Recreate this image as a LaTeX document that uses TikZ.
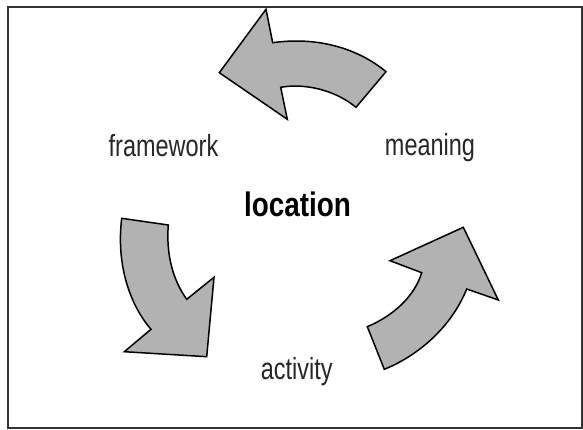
\documentclass[tikz,border=0pt]{standalone}
\usepackage{fontspec}
\newfontfamily\narrowfont[FakeStretch=0.77]{Liberation Sans}
\newfontfamily\narrowbold[FakeStretch=0.82]{Liberation Sans Bold}
\begin{document}
\begin{tikzpicture}[x=1pt,y=-1pt,
  frame/.style={draw=black!80,line width=2pt},
  bigarrow/.style={draw=black,fill=black!30,line width=1.5pt,line join=miter},
  label/.style={anchor=base,inner sep=0pt,text=black!85,font=\narrowfont\fontsize{30.5}{32}\selectfont},
  centre/.style={anchor=base,inner sep=0pt,text=black,font=\narrowbold\fontsize{34}{36}\selectfont}]
\useasboundingbox (0,0) rectangle (583,430);
\draw[frame] (8,7) rectangle (582,428);
% top arrow (meaning -> framework)
\draw[bigarrow] (219.3,72.7) -- (266,9.3) -- (272.7,42.7)
  .. controls (320,36) and (360,50) .. (386,71.7) -- (356,107.3)
  .. controls (335,90) and (305,83) .. (280.7,87.3) -- (287.3,119.3) -- cycle;
% left arrow (framework -> activity)
\draw[bigarrow] (121.7,218.3) -- (168.3,225)
  .. controls (166,255) and (173,280) .. (186.7,299.3) -- (214,277.3)
  -- (206.7,356.7) -- (124.3,351.7) -- (151,329.3)
  .. controls (130,305) and (116,265) .. (121.7,218.3) -- cycle;
% right arrow (activity -> meaning)
\draw[bigarrow] (367.3,326.7) -- (384.3,369.3)
  .. controls (415,357) and (450,330) .. (466.7,289) -- (498.3,300)
  -- (463.3,227.3) -- (390,260.7) -- (421.7,272.7)
  .. controls (415,295) and (395,315) .. (367.3,326.7) -- cycle;
\node[label] (framework) at (163.5,156.7) {framework};
\node[label] (meaning) at (430,155.5) {meaning};
\node[centre] (location) at (297.5,216.7) {location};
\node[label] (activity) at (296.7,379) {activity};
\end{tikzpicture}
\end{document}
